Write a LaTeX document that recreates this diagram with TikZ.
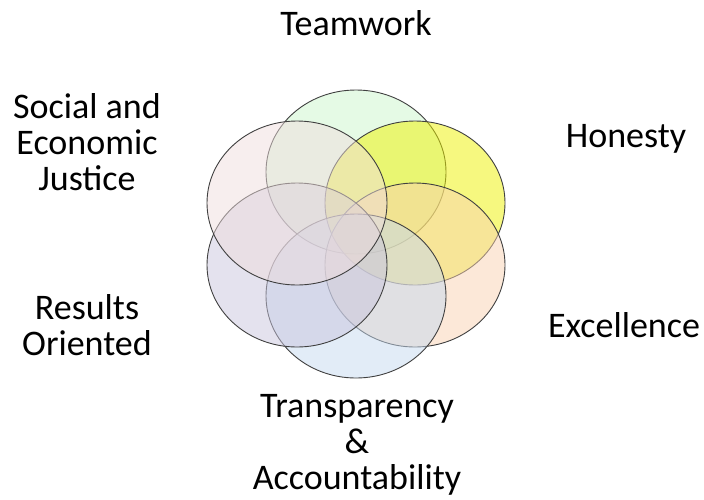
\documentclass[tikz,border=0pt]{standalone}
\usepackage{fontspec}
\setmainfont{Carlito}
\usetikzlibrary{shapes.geometric}
\usepackage{xcolor}
\definecolor{teamgreen}{HTML}{CCF5CC}
\definecolor{honyellow}{HTML}{EEF200}
\definecolor{exorange}{HTML}{F9D1B1}
\definecolor{transblue}{HTML}{C5D9EF}
\definecolor{reslilac}{HTML}{C9C5DD}
\definecolor{socpink}{HTML}{EFDDDD}

\begin{document}
\begin{tikzpicture}[x=1pt,y=-1pt,
  value/.style={ellipse,draw=black!75,line width=0.9pt,minimum width=180pt,minimum height=164pt,inner sep=0pt,fill opacity=0.5,draw opacity=1},
  lbl/.style={align=center,anchor=base,font=\fontsize{36}{36}\selectfont}]
\useasboundingbox (0,0) rectangle (704,499);
\coordinate (mid) at (356,234);

\node [value,fill=teamgreen] (tw) at ([yshift=62pt]mid) {};
\node [value,fill=honyellow] (hon) at ([xshift=59pt,yshift=31pt]mid) {};
\node [value,fill=exorange] (exc) at ([xshift=59pt,yshift=-31pt]mid) {};
\node [value,fill=transblue] (tra) at ([yshift=-62pt]mid) {};
\node [value,fill=reslilac] (res) at ([xshift=-59pt,yshift=-31pt]mid) {};
\node [value,fill=socpink] (soc) at ([xshift=-59pt,yshift=31pt]mid) {};

% labels: base anchor sits on the last line
\node [lbl] (teamwork) at (356,35) {Teamwork};
\node [lbl] (honesty) at (626,147) {Honesty};
\node [lbl] (excellence) at (624,337) {Excellence};
\node [lbl] (transparency) at (357,489) {Transparency\\\&\\Accountability};
\node [lbl] (results) at (87,355) {Results\\Oriented};
\node [lbl] (social) at (87,190) {Social and\\Economic\\Justice};
\end{tikzpicture}
\end{document}
